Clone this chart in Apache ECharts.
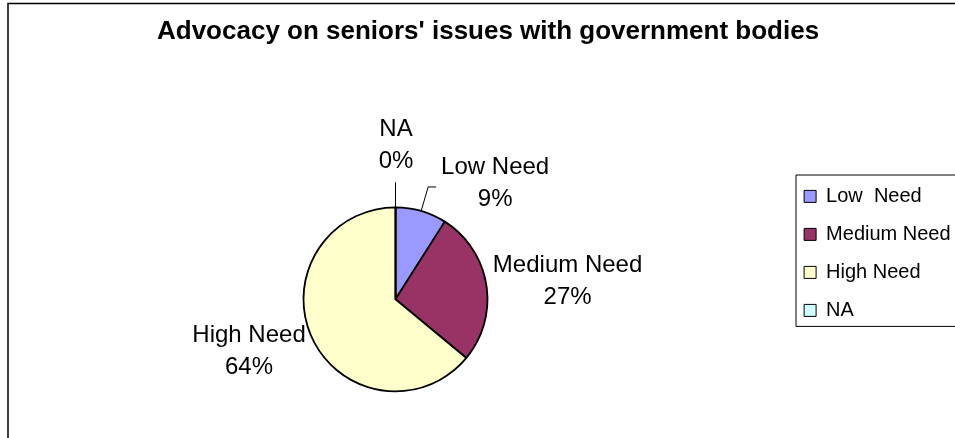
<!DOCTYPE html>
<html>
<head>
<meta charset="utf-8">
<script src="https://cdn.jsdelivr.net/npm/echarts@6/dist/echarts.min.js"></script>
<style>
  html, body { margin: 0; padding: 0; background: #ffffff; }
  #chart { width: 955px; height: 438px; }
</style>
</head>
<body>
<div id="chart"></div>
<script>
// Survey result: need level for advocacy with government bodies (percent of responses)
const categories = ['Low  Need', 'Medium Need', 'High Need', 'NA'];
const shares = [9, 27, 64, 0];
const sliceColors = ['#9999FF', '#993366', '#FFFFCC', '#CCFFFF'];
const leaderShown = [true, false, false, true];
// where each label block sits relative to the elbow of its leader line (px)
const labelOffsets = [[67, -4], [56.5, 0], [-40.6, 2], [0.5, -37]];

const FONT = "'Liberation Sans', Arial, sans-serif";
const CX = 395.5, CY = 299.3, R = 92, LEAD = 25, LEAD2 = 8;

const total = shares.reduce((a, b) => a + b, 0);
const midAngles = [];
let acc = 0;
shares.forEach(v => { midAngles.push((acc + v / 2) / total * 2 * Math.PI); acc += v; });

function placeLabel(params) {
  const i = params.dataIndex;
  const a = midAngles[i];
  const sx = Math.sin(a), sy = -Math.cos(a);
  const p1 = [CX + R * sx, CY + R * sy];
  const p2 = [CX + (R + LEAD) * sx, CY + (R + LEAD) * sy];
  const side = sx > 1e-6 ? 1 : (sx < -1e-6 ? -1 : 0);
  const p3 = [p2[0] + side * LEAD2, p2[1]];
  return {
    x: p2[0] + labelOffsets[i][0],
    y: p2[1] + labelOffsets[i][1],
    align: 'center',
    verticalAlign: 'middle',
    labelLinePoints: [p1, p2, p3]
  };
}

const chart = echarts.init(document.getElementById('chart'), null, { renderer: 'canvas' });
chart.setOption({
  animation: false,
  backgroundColor: '#ffffff',
  textStyle: { fontFamily: FONT },
  title: {
    text: "Advocacy on seniors' issues with government bodies",
    left: 157,
    top: 19,
    padding: 0,
    textStyle: { fontFamily: FONT, fontSize: 26, fontWeight: 'bold', color: '#000000' }
  },
  legend: {
    orient: 'vertical',
    left: 796,
    top: 175,
    padding: [11.4, 60, 6, 7.6],
    borderColor: '#000000',
    borderWidth: 1,
    itemWidth: 12,
    itemHeight: 12,
    itemGap: 18,
    icon: 'rect',
    itemStyle: { borderColor: '#000000', borderWidth: 1 },
    textStyle: { fontFamily: FONT, fontSize: 20, lineHeight: 20, color: '#000000', padding: [0, 0, 0, 5] },
    data: categories
  },
  graphic: [{
    type: 'rect',
    silent: true,
    z: -10,
    shape: { x: 8, y: 3.5, width: 1100, height: 1000 },
    style: { fill: 'none', stroke: '#000000', lineWidth: 1.5 }
  }],
  series: [{
    type: 'pie',
    center: [CX, CY],
    radius: R,
    startAngle: 90,
    clockwise: true,
    avoidLabelOverlap: false,
    silent: true,
    emphasis: { disabled: true },
    itemStyle: { borderColor: '#000000', borderWidth: 1.8 },
    label: {
      show: true,
      position: 'outside',
      fontFamily: FONT,
      fontSize: 24,
      lineHeight: 32,
      color: '#000000',
      formatter: p => p.name.replace(/\s+/g, ' ') + '\n' + Math.round(p.percent) + '%'
    },
    labelLine: { show: true, length: LEAD, length2: LEAD2, lineStyle: { color: '#000000', width: 1 } },
    labelLayout: placeLabel,
    data: categories.map((name, i) => ({
      name: name,
      value: shares[i],
      itemStyle: { color: sliceColors[i] },
      labelLine: { show: leaderShown[i] }
    }))
  }]
});
</script>
</body>
</html>
